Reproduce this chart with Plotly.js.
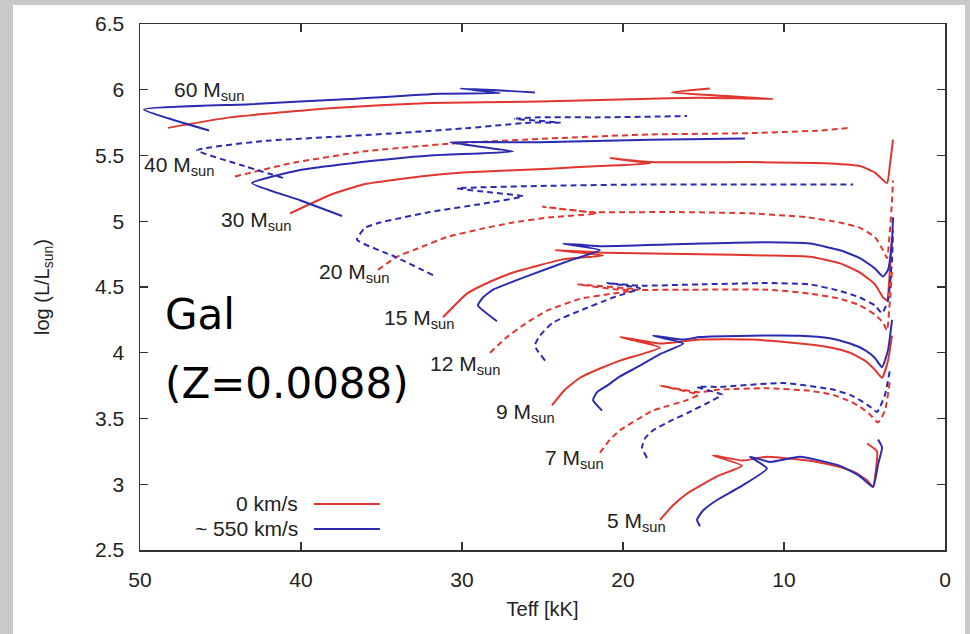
<!DOCTYPE html>
<html>
<head>
<meta charset="utf-8">
<script src="https://cdn.plot.ly/plotly-3.0.1.min.js"></script>
<style>
  html, body { margin: 0; padding: 0; width: 970px; height: 634px; overflow: hidden;
    background: #c9c9c9; }
  #plot { position: absolute; left: 13px; top: 5px; width: 952px; height: 629px; background: #fff; }
</style>
</head>
<body>
<div id="plot"></div>
<script>
// ---- Data: Teff [kK] and log(L/Lsun) for each track ----
// 0 km/s (red)
const teff_60_0 = [48.26, 44.41, 38.20, 31.99, 25.16, 18.94, 15.22, 10.68, 16.96, 14.60];
const logL_60_0 = [5.71, 5.79, 5.86, 5.90, 5.91, 5.93, 5.94, 5.93, 5.98, 6.01];
const teff_40_0 = [44.10, 40.68, 36.15, 30.75, 24.53, 18.32, 12.11, 7.76, 5.90];
const logL_40_0 = [5.34, 5.44, 5.53, 5.59, 5.63, 5.66, 5.67, 5.69, 5.71];
const teff_30_0 = [40.68, 38.20, 36.15, 32.61, 29.94, 24.53, 21.43, 18.32, 20.81, 18.32, 12.11, 7.14, 5.28, 4.35, 3.60, 3.42, 3.23];
const logL_30_0 = [5.06, 5.20, 5.28, 5.34, 5.37, 5.40, 5.42, 5.44, 5.48, 5.45, 5.45, 5.44, 5.42, 5.37, 5.29, 5.43, 5.62];
const teff_20_0 = [35.22, 34.04, 32.61, 30.93, 28.88, 26.83, 24.53, 21.61, 24.97, 22.05, 16.89, 12.11, 8.57, 6.52, 5.28, 4.35, 3.85, 3.60, 3.42, 3.29, 3.23];
const logL_20_0 = [4.63, 4.73, 4.80, 4.88, 4.94, 4.99, 5.03, 5.06, 5.11, 5.07, 5.07, 5.06, 5.03, 4.99, 4.95, 4.88, 4.78, 4.72, 4.93, 5.16, 5.31];
const teff_15_0 = [31.18, 29.69, 28.26, 26.83, 23.73, 21.24, 24.22, 21.12, 15.22, 11.06, 8.39, 6.52, 5.28, 4.35, 3.85, 3.60, 3.42, 3.29];
const logL_15_0 = [4.27, 4.45, 4.54, 4.61, 4.71, 4.74, 4.78, 4.76, 4.75, 4.74, 4.73, 4.68, 4.61, 4.52, 4.42, 4.40, 4.63, 4.86];
const teff_12_0 = [28.26, 27.20, 25.96, 24.72, 22.67, 20.62, 19.07, 22.80, 20.19, 15.22, 11.06, 8.39, 6.52, 5.28, 4.35, 3.85, 3.60, 3.42, 3.29];
const logL_12_0 = [4.00, 4.12, 4.23, 4.32, 4.41, 4.45, 4.48, 4.52, 4.48, 4.48, 4.48, 4.45, 4.41, 4.36, 4.29, 4.23, 4.17, 4.40, 4.63];
const teff_9_0  = [24.41, 23.60, 22.67, 21.43, 20.19, 17.70, 20.19, 17.70, 15.22, 12.11, 9.01, 7.14, 5.90, 4.97, 4.35, 3.91, 3.54, 3.29];
const logL_9_0  = [3.60, 3.72, 3.81, 3.88, 3.94, 4.04, 4.12, 4.07, 4.10, 4.10, 4.07, 4.04, 4.00, 3.94, 3.87, 3.81, 3.94, 4.13];
const teff_7_0  = [21.43, 20.81, 20.19, 18.14, 16.02, 15.34, 17.70, 15.34, 13.98, 11.06, 8.39, 6.96, 5.90, 5.28, 4.66, 4.16, 3.73, 3.42];
const logL_7_0  = [3.24, 3.34, 3.41, 3.56, 3.64, 3.68, 3.75, 3.70, 3.72, 3.73, 3.71, 3.68, 3.63, 3.59, 3.53, 3.47, 3.56, 3.79];
const teff_5_0  = [17.70, 16.89, 16.02, 14.16, 12.61, 14.41, 12.55, 11.06, 7.95, 6.52, 5.59, 4.84, 4.47, 4.29, 4.22, 4.84];
const logL_5_0  = [2.73, 2.84, 2.93, 3.06, 3.14, 3.22, 3.18, 3.21, 3.17, 3.13, 3.09, 3.03, 2.98, 3.11, 3.25, 3.31];
// ~550 km/s (blue)
const teff_60_r = [45.71, 49.75, 43.17, 36.96, 31.37, 27.64, 30.12, 25.47];
const logL_60_r = [5.69, 5.85, 5.89, 5.93, 5.97, 5.975, 6.01, 5.98];
const teff_40_r = [41.12, 43.79, 46.46, 42.36, 38.20, 34.04, 29.50, 25.78, 23.91, 26.71, 25.16, 21.43, 16.02];
const logL_40_r = [5.33, 5.43, 5.54, 5.61, 5.64, 5.67, 5.71, 5.75, 5.75, 5.78, 5.79, 5.79, 5.80];
const teff_30_r = [37.45, 40.06, 43.04, 40.06, 36.96, 31.99, 26.83, 30.75, 25.16, 18.32, 12.42];
const logL_30_r = [5.04, 5.16, 5.29, 5.39, 5.44, 5.50, 5.53, 5.60, 5.60, 5.62, 5.63];
const teff_20_r = [31.80, 34.16, 36.52, 36.02, 35.09, 31.99, 28.88, 26.21, 28.26, 30.31, 24.53, 18.32, 12.11, 5.71];
const logL_20_r = [4.59, 4.73, 4.86, 4.95, 4.99, 5.07, 5.13, 5.19, 5.22, 5.25, 5.27, 5.28, 5.28, 5.28];
const teff_15_r = [27.83, 29.01, 28.70, 28.07, 25.78, 23.11, 21.43, 23.73, 21.43, 15.22, 11.06, 8.39, 6.52, 5.28, 4.35, 3.85, 3.54, 3.29, 3.23];
const logL_15_r = [4.24, 4.36, 4.42, 4.48, 4.59, 4.71, 4.78, 4.83, 4.81, 4.83, 4.84, 4.83, 4.78, 4.72, 4.64, 4.58, 4.63, 4.86, 5.03];
const teff_12_r = [24.84, 25.34, 25.47, 25.16, 24.35, 22.67, 20.62, 18.94, 20.99, 18.94, 15.22, 11.06, 8.39, 6.52, 5.28, 4.35, 3.91, 3.54, 3.29, 3.23];
const logL_12_r = [3.94, 4.02, 4.06, 4.13, 4.23, 4.32, 4.42, 4.49, 4.53, 4.51, 4.52, 4.53, 4.52, 4.47, 4.42, 4.36, 4.30, 4.40, 4.71, 4.93];
const teff_9_r  = [21.30, 21.86, 21.61, 20.99, 20.19, 19.13, 17.70, 16.27, 18.14, 16.27, 15.22, 12.11, 9.01, 7.14, 5.90, 4.97, 4.35, 3.91, 3.54, 3.29];
const logL_9_r  = [3.56, 3.64, 3.70, 3.75, 3.82, 3.89, 3.99, 4.07, 4.13, 4.10, 4.12, 4.13, 4.13, 4.11, 4.07, 4.02, 3.96, 3.89, 4.02, 4.25];
const teff_7_r  = [18.51, 18.82, 18.63, 18.14, 17.08, 16.02, 14.41, 13.85, 15.40, 13.98, 10.06, 6.96, 5.90, 5.28, 4.66, 4.22, 3.73, 3.42];
const logL_7_r  = [3.20, 3.28, 3.35, 3.41, 3.48, 3.54, 3.64, 3.68, 3.74, 3.74, 3.77, 3.72, 3.68, 3.64, 3.59, 3.55, 3.68, 3.87];
const teff_5_r  = [15.22, 15.40, 15.03, 14.16, 12.73, 11.06, 12.11, 10.87, 9.01, 6.52, 5.28, 4.47, 4.16, 3.91, 4.16];
const logL_5_r  = [2.68, 2.73, 2.80, 2.88, 2.98, 3.12, 3.21, 3.17, 3.21, 3.14, 3.06, 2.98, 3.15, 3.28, 3.34];

// Mass labels: [text, Teff of left edge, logL]
const massLabels = ["60", "40", "30", "20", "15", "12", "9", "7", "5"];
const labelTeff  = [48.0, 49.85, 45.1, 39.0, 35.0, 32.1, 28.0, 25.0, 21.1];
const labelLogL  = [5.99, 5.42, 5.00, 4.61, 4.26, 3.91, 3.54, 3.19, 2.71];

const seriesNames = ["0 km/s", "~ 550 km/s"];
const RED = "#e0362f", BLUE = "#2b2bb0";

const tracks = [
  [teff_60_0, logL_60_0, 0, "solid"], [teff_40_0, logL_40_0, 0, "dash"],
  [teff_30_0, logL_30_0, 0, "solid"], [teff_20_0, logL_20_0, 0, "dash"],
  [teff_15_0, logL_15_0, 0, "solid"], [teff_12_0, logL_12_0, 0, "dash"],
  [teff_9_0,  logL_9_0,  0, "solid"], [teff_7_0,  logL_7_0,  0, "dash"],
  [teff_5_0,  logL_5_0,  0, "solid"],
  [teff_60_r, logL_60_r, 1, "solid"], [teff_40_r, logL_40_r, 1, "dash"],
  [teff_30_r, logL_30_r, 1, "solid"], [teff_20_r, logL_20_r, 1, "dash"],
  [teff_15_r, logL_15_r, 1, "solid"], [teff_12_r, logL_12_r, 1, "dash"],
  [teff_9_r,  logL_9_r,  1, "solid"], [teff_7_r,  logL_7_r,  1, "dash"],
  [teff_5_r,  logL_5_r,  1, "solid"]
];

const traces = tracks.map(t => ({
  x: t[0], y: t[1], type: "scatter", mode: "lines",
  name: seriesNames[t[2]], showlegend: false, hoverinfo: "skip",
  line: { color: t[2] === 0 ? RED : BLUE, width: 2, shape: "spline", smoothing: 0.45,
          dash: t[3] === "dash" ? "6px,4px" : "solid" }
}));

const FONT = "'Liberation Sans', Arial, Helvetica, sans-serif";
const annotations = massLabels.map((m, i) => ({
  x: labelTeff[i], y: labelLogL[i], xref: "x", yref: "y",
  text: m + " M<sub>sun</sub>", showarrow: false, xanchor: "left", yanchor: "middle",
  font: { family: FONT, size: 21, color: "#222" }
}));
annotations.push(
  { x: 48.6, y: 4.29, xref: "x", yref: "y", text: "Gal", showarrow: false,
    xanchor: "left", yanchor: "middle",
    font: { family: "'Comic Sans MS', 'DejaVu Sans', sans-serif", size: 42, color: "#000" } },
  { x: 48.6, y: 3.77, xref: "x", yref: "y", text: "(Z=0.0088)", showarrow: false,
    xanchor: "left", yanchor: "middle",
    font: { family: "'Comic Sans MS', 'DejaVu Sans', sans-serif", size: 42, color: "#000" } },
  // legend texts (gnuplot style: text then sample line)
  { x: 0.199, y: 0.088, xref: "paper", yref: "paper", text: seriesNames[0], showarrow: false,
    xanchor: "right", yanchor: "middle", font: { family: FONT, size: 21, color: "#222" } },
  { x: 0.199, y: 0.040, xref: "paper", yref: "paper", text: seriesNames[1], showarrow: false,
    xanchor: "right", yanchor: "middle", font: { family: FONT, size: 21, color: "#222" } }
);

const shapes = [
  { type: "line", xref: "paper", yref: "paper", x0: 0.216, x1: 0.298, y0: 0.0875, y1: 0.0875,
    line: { color: RED, width: 2 } },
  { type: "line", xref: "paper", yref: "paper", x0: 0.216, x1: 0.298, y0: 0.040, y1: 0.040,
    line: { color: BLUE, width: 2 } }
];

const axisCommon = {
  showgrid: false, zeroline: false, showline: true, linecolor: "#333", linewidth: 1.5,
  mirror: "ticks", ticks: "inside", ticklen: 8, tickwidth: 1.2, tickcolor: "#333",
  tickfont: { family: FONT, size: 21, color: "#222" }, ticklabelstandoff: 10, automargin: false
};

const layout = {
  width: 952, height: 629,
  margin: { l: 127, r: 20, t: 19, b: 84 },
  paper_bgcolor: "#ffffff", plot_bgcolor: "#ffffff",
  showlegend: false,
  xaxis: Object.assign({}, axisCommon, {
    range: [50, 0], tickvals: [50, 40, 30, 20, 10, 0],
    title: { text: "Teff [kK]", font: { family: FONT, size: 20, color: "#222" }, standoff: 12 }
  }),
  yaxis: Object.assign({}, axisCommon, {
    range: [2.5, 6.5], tick0: 2.5, dtick: 0.5,
    title: { text: "log (L/L<sub>sun</sub>)", font: { family: FONT, size: 20, color: "#222" }, standoff: 40 }
  }),
  annotations: annotations,
  shapes: shapes
};

Plotly.newPlot("plot", traces, layout, { staticPlot: true, displayModeBar: false });
</script>
</body>
</html>
